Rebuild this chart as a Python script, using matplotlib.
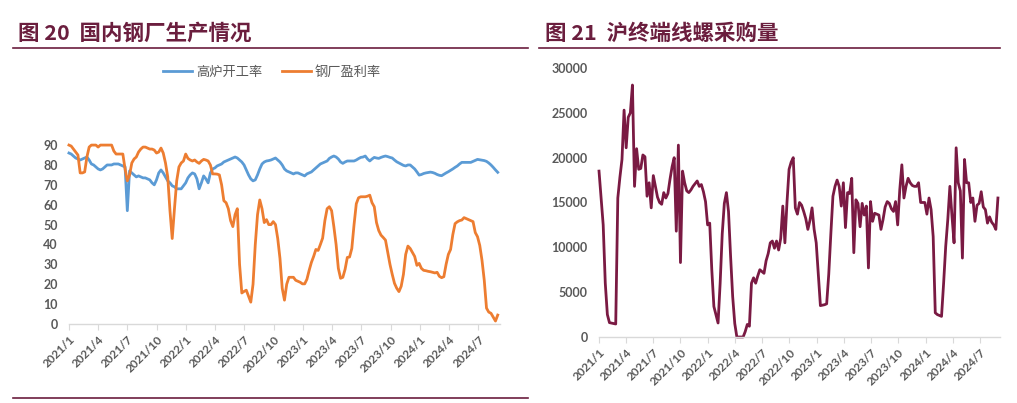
import matplotlib.pyplot as plt
import pandas as pd
from matplotlib.lines import Line2D

plt.rcParams["font.family"] = ["Noto Sans CJK SC", "DejaVu Sans"]

# weekly observations, 2021-01-01 onwards
weeks = pd.date_range("2021-01-01", periods=192, freq="7D")

blast_furnace_rate = [
    86, 85.5, 84.5, 83.5, 83, 82.5, 83, 83.5, 84, 82.5,
    80.5, 80, 79, 78, 77.5, 78, 79, 80, 80, 80,
    80.5, 80.5, 80.5, 80, 79.5, 79, 57, 77, 76, 75,
    74, 74.5, 74, 73.5, 73.5, 73, 72.5, 71, 70, 72.5,
    76, 77.5, 76, 74, 72, 71, 69.5, 69, 68, 68,
    68, 69.5, 71, 73.5, 75, 76, 75.5, 73, 68, 71,
    74.5, 73, 71, 76, 78, 78.5, 79.5, 80, 80.5, 81.5,
    82, 82.5, 83, 83.5, 84, 83.5, 82.5, 81.5, 80, 77.5,
    75, 73, 72, 72.5, 75, 78, 80.5, 81.5, 82, 82.2,
    82.5, 83, 83.5, 82.5, 81.5, 80, 78, 77, 76.5, 76,
    75.5, 76, 76, 75.5, 75, 74.5, 75.5, 76, 76.5, 77.5,
    78.5, 79.5, 80.5, 81, 81.5, 82, 83.3, 84, 84.5, 84,
    83, 81.5, 80.8, 81.5, 82, 82, 82, 82, 82.5, 83.2,
    83.8, 84, 84.5, 83, 82, 83, 83.8, 83.5, 83.3, 83.8,
    84.2, 84.5, 84.2, 83.8, 83.5, 82.5, 81.6, 81, 80.4, 79.8,
    79.5, 80, 80, 79, 78, 76.5, 74.9, 75.2, 75.7, 76,
    76.2, 76.4, 76.2, 75.8, 75.2, 74.8, 74.6, 75.3, 76, 76.6,
    77.3, 78, 78.8, 79.5, 80.5, 81.3, 81.3, 81.3, 81.3, 81.3,
    81.8, 82.3, 82.8, 82.6, 82.4, 82.2, 81.8, 81, 80, 78.8,
    77.5, 76.3,
]

steel_profit_rate = [
    90, 89.5, 88, 86.5, 85, 76, 76, 76.5, 84, 89,
    90, 90, 90, 89, 90, 90, 90, 90, 90, 90,
    87, 85.5, 85.5, 85.5, 85.5, 78, 72, 75, 81, 83,
    84, 86.5, 88, 89, 89, 88.5, 88, 88, 87.5, 86,
    86.5, 88.5, 86, 81, 74, 57, 43, 58, 72, 79,
    81, 82, 85.5, 83.3, 82.5, 82, 82.5, 81.5, 80.8, 82,
    82.8, 82.5, 82, 80, 75.5, 75.5, 75.4, 75, 70, 62,
    61, 58, 52, 49, 55, 58, 30, 15.6, 16.4, 17,
    14, 11, 20, 40, 55, 62.4, 58, 51, 52.5, 50,
    50, 51.5, 50, 43, 33, 18, 12, 20, 23.5, 23.5,
    23.5, 22, 21.5, 21, 20.2, 20.2, 22.5, 27, 31, 34,
    37.5, 37, 40, 43.2, 52, 58, 59, 57, 49, 40,
    28, 23, 23.5, 27.5, 33.5, 33.7, 38, 50, 60.5, 63.5,
    64, 64, 64, 64.3, 64.8, 61, 59, 51, 47, 44.7,
    43.5, 42.2, 36, 30, 25, 20.5, 18, 16.3, 19, 25,
    35, 39.2, 38, 36, 34, 29.5, 30.5, 28, 27, 26.8,
    26.5, 26.3, 26, 25.7, 26, 24, 23.3, 23.8, 30, 35,
    37.5, 45, 50.5, 51.4, 52, 52.3, 53.5, 53, 52.5, 52,
    51.5, 46, 43.9, 39.5, 32, 22, 8, 6, 5.4, 3.5,
    1.5, 4.5,
]

shanghai_purchase = [
    18500, 15500, 12500, 6000, 2500, 1600, 1550, 1500, 1450, 15500,
    17800, 19800, 25300, 21100, 24500, 25000, 28100, 16800, 21000, 18700,
    18800, 20300, 20100, 15700, 17200, 14400, 18000, 16800, 15600, 15000,
    14800, 16100, 15500, 16000, 17600, 19000, 20000, 11800, 21400, 8300,
    18500, 17200, 16300, 16100, 16400, 16800, 17100, 17400, 16800, 17000,
    16200, 15100, 12500, 12700, 7500, 3400, 2500, 1560, 6000, 11500,
    14900, 16100, 14000, 9000, 4500, 1500, 0, 0, 0, 0,
    600, 1400, 1200, 6000, 6600, 6000, 6800, 7500, 7300, 7100,
    8500, 9300, 10500, 10700, 9900, 10700, 9700, 11000, 14600, 10500,
    15000, 18700, 19500, 20000, 14400, 13700, 15000, 14700, 14000, 13200,
    12000, 13000, 14400, 12000, 10500, 7000, 3500, 3550, 3600, 3700,
    7000, 11500, 15700, 16800, 17500, 16800, 14600, 17200, 12200, 16100,
    16000, 17700, 9400, 15300, 14900, 12300, 14900, 13600, 14600, 7700,
    15100, 12900, 13800, 13700, 13600, 12000, 13100, 14500, 15100, 14900,
    14300, 14000, 15100, 12500, 16400, 19200, 15500, 16800, 17700, 17200,
    16900, 16800, 16800, 17200, 15000, 15000, 15000, 13700, 15500, 14200,
    11200, 2700, 2500, 2400, 2300, 6000, 10100, 13100, 16800, 13500,
    10500, 21100, 17200, 16300, 8800, 19800, 17200, 17200, 15000, 15500,
    12900, 14700, 14900, 16200, 14500, 14200, 12700, 13400, 12800, 12500,
    12000, 15500,
]

tick_dates = pd.date_range("2021-01-01", "2024-07-01", freq="3MS")
tick_labels = [f"{d.year}/{d.month}" for d in tick_dates]

TITLE_COLOR = "#6B1E3E"
TEXT_COLOR = "#595959"
x_end = pd.Timestamp("2024-09-05")


def style_axis(ax):
    for side in ["top", "right", "left"]:
        ax.spines[side].set_visible(False)
    ax.spines["bottom"].set_color("#d9d9d9")
    ax.spines["bottom"].set_linewidth(1.0)
    ax.set_xlim(weeks[0], x_end)
    ax.set_xticks(tick_dates)
    ax.set_xticklabels(tick_labels, rotation=45, ha="right", va="top",
                       rotation_mode="anchor", fontsize=8.5, color=TEXT_COLOR,
                       family="Lato", fontweight="bold")
    ax.tick_params(axis="x", length=4, color="#d9d9d9", pad=3)
    ax.tick_params(axis="y", length=0, pad=8)
    for lbl in ax.get_yticklabels():
        lbl.set_family("Lato")
        lbl.set_fontweight("bold")
        lbl.set_color(TEXT_COLOR)
        lbl.set_fontsize(9)


fig = plt.figure(figsize=(10.17, 4.03), dpi=100)

# left panel
ax1 = fig.add_axes([0.0678, 0.196, 0.4235, 0.444])
ax1.plot(weeks, blast_furnace_rate, color="#5B9BD5", lw=2.0, label="高炉开工率", clip_on=False)
ax1.plot(weeks, steel_profit_rate, color="#ED7D31", lw=2.0, label="钢厂盈利率", clip_on=False)
ax1.set_ylim(0, 90)
ax1.set_yticks(range(0, 91, 10))
style_axis(ax1)
ax1.legend(loc="center", bbox_to_anchor=(272 / 1017, 1 - 72 / 403),
           bbox_transform=fig.transFigure, ncol=2, frameon=False,
           fontsize=9.5, labelcolor=TEXT_COLOR, handlelength=2.2,
           columnspacing=1.5, handletextpad=0.3)

# right panel
ax2 = fig.add_axes([0.589, 0.1638, 0.394, 0.6675])
ax2.plot(weeks, shanghai_purchase, color="#7A1A43", lw=2.0, clip_on=False)
ax2.set_ylim(0, 30000)
ax2.set_yticks(range(0, 30001, 5000))
style_axis(ax2)

# titles and rules
fig.text(18 / 1017, 1 - 33 / 403, "图 20  国内钢厂生产情况", fontsize=15.5,
         fontweight="bold", color=TITLE_COLOR, va="center", ha="left")
fig.text(545 / 1017, 1 - 33 / 403, "图 21  沪终端线螺采购量", fontsize=15.5,
         fontweight="bold", color=TITLE_COLOR, va="center", ha="left")

y_top = 1 - 48 / 403
y_bot = 1 - 398 / 403
fig.add_artist(Line2D([13 / 1017, 528 / 1017], [y_top, y_top], color=TITLE_COLOR, lw=1.2))
fig.add_artist(Line2D([539 / 1017, 1000 / 1017], [y_top, y_top], color=TITLE_COLOR, lw=1.2))
fig.add_artist(Line2D([13 / 1017, 528 / 1017], [y_bot, y_bot], color=TITLE_COLOR, lw=1.2))

fig.savefig("out.png", dpi=100)
